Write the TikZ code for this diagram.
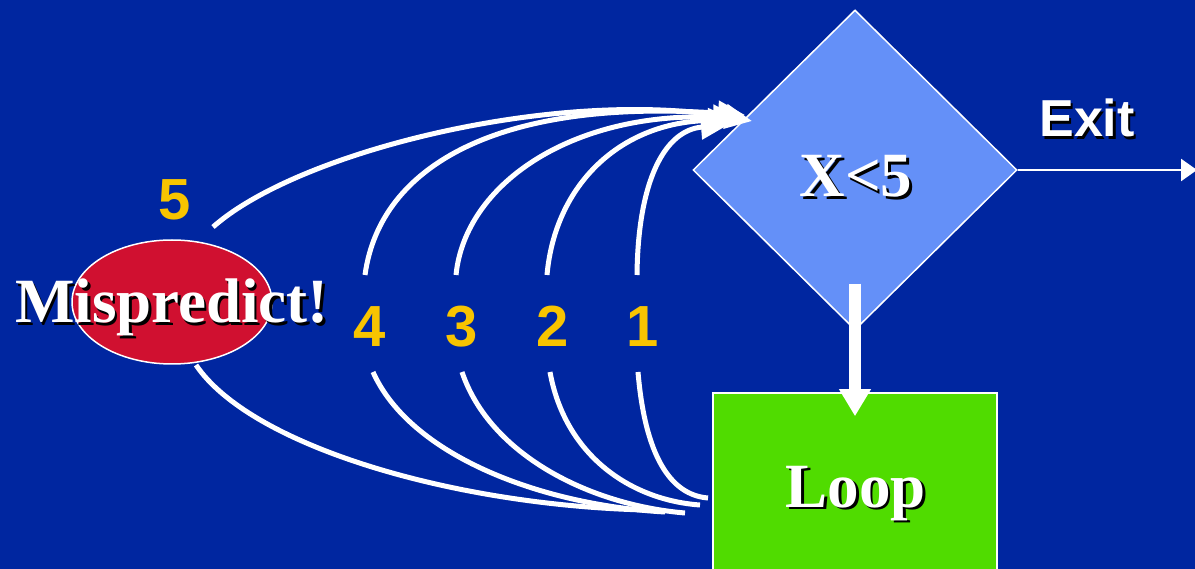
\documentclass[tikz,border=0pt]{standalone}
\usepackage{fontspec}
\setmainfont{Liberation Serif}
\newfontfamily\digitfont{Liberation Sans}
\usetikzlibrary{shapes.geometric,arrows.meta,positioning,calc}

\definecolor{slideblue}{RGB}{0,38,160}
\definecolor{testblue}{RGB}{100,144,248}
\definecolor{missred}{RGB}{208,16,48}
\definecolor{loopgreen}{RGB}{80,220,0}
\definecolor{countyellow}{RGB}{248,196,0}

% white text with a small black drop shadow
\newcommand{\shadowed}[1]{\leavevmode\rlap{\hspace{2.5pt}\raisebox{-2.5pt}{\color{black}#1}}#1}

\tikzset{
  test/.style={diamond,draw=white,line width=1.5pt,fill=testblue,
    minimum width=324pt,minimum height=320pt,inner sep=0pt},
  loopbox/.style={rectangle,draw=white,line width=1.5pt,fill=loopgreen,
    minimum width=284pt,minimum height=188pt,inner sep=0pt},
  miss/.style={ellipse,draw=white,line width=1.5pt,fill=missred,
    minimum width=200pt,minimum height=124pt,inner sep=0pt},
  bigtext/.style={text=white,inner sep=0pt,anchor=base,
    font=\bfseries\fontsize{63}{70}\selectfont},
  exittext/.style={text=white,inner sep=0pt,anchor=base,
    font=\digitfont\bfseries\fontsize{52}{60}\selectfont},
  count/.style={text=countyellow,inner sep=0pt,anchor=base,
    font=\digitfont\bfseries\fontsize{58}{64}\selectfont},
  flow/.style={draw=white,line width=5pt,
    -{Triangle[length=27pt,width=24pt]}},
  back/.style={draw=white,line width=5pt},
  downarrow/.style={draw=white,line width=12pt,
    -{Triangle[length=27pt,width=30pt]}},
  exitarrow/.style={draw=white,line width=2.5pt,
    -{Triangle[length=16pt,width=22pt]}}
}

\begin{document}
\begin{tikzpicture}[x=1pt,y=-1pt]
  \fill[slideblue] (0,0) rectangle (1195,569);
  \useasboundingbox (0,0) rectangle (1195,569);

  \node [test] (test) at (855,170) {};
  \node [bigtext] (testtext) at (856,197) {\shadowed{X<5}};
  \node [loopbox] (loop) at (855,487) {};
  \node [bigtext] (looptext) at (856,507) {\shadowed{Loop}};
  \node [miss] (miss) at (172,302) {};
  \node [bigtext] (misstext) at (172,323) {\shadowed{Mispredict!}};

  \node [exittext] (exit) at (1087,137) {\shadowed{Exit}};
  \coordinate (out) at (1197,170);
  \draw [exitarrow] (test.east) -- (out);

  \draw [downarrow] ([yshift=47pt]test.south) -- ([yshift=-24pt]loop.north);

  \node [count] (n5) at (175,220) {5};
  \node [count] (n4) at (370,347) {4};
  \node [count] (n3) at (462,347) {3};
  \node [count] (n2) at (553,347) {2};
  \node [count] (n1) at (643,347) {1};

  % trips back up to the test
  \coordinate (u5) at (213,227);
  \coordinate (u4) at (365,275);
  \coordinate (u3) at (456,275);
  \coordinate (u2) at (547,275);
  \coordinate (u1) at (637,275);
  \coordinate (t5) at (752,121);
  \coordinate (t4) at (745,115);
  \coordinate (t3) at (740,118);
  \coordinate (t2) at (735,120);
  \coordinate (t1) at (728,125);
  \draw [flow] (u5) .. controls (300,150) and (560,88) .. (t5);
  \draw [flow] (u4) .. controls (380,165) and (500,98) .. (t4);
  \draw [flow] (u3) .. controls (465,185) and (570,112) .. (t3);
  \draw [flow] (u2) .. controls (555,185) and (620,122) .. (t2);
  \draw [flow] (u1) .. controls (638,180) and (665,130) .. (t1);

  % coming out of the loop body
  \coordinate (d5) at (196,365);
  \coordinate (d4) at (373,372);
  \coordinate (d3) at (462,372);
  \coordinate (d2) at (550,372);
  \coordinate (d1) at (638,372);
  \coordinate (b5) at (645,510);
  \coordinate (b4) at (665,512);
  \coordinate (b3) at (685,513);
  \coordinate (b2) at (700,505);
  \coordinate (b1) at (708,498);
  \draw [back] (d5) .. controls (250,445) and (450,505) .. (b5);
  \draw [back] (d4) .. controls (410,455) and (540,505) .. (b4);
  \draw [back] (d3) .. controls (490,455) and (590,505) .. (b3);
  \draw [back] (d2) .. controls (565,455) and (630,500) .. (b2);
  \draw [back] (d1) .. controls (645,455) and (670,495) .. (b1);
\end{tikzpicture}
\end{document}
